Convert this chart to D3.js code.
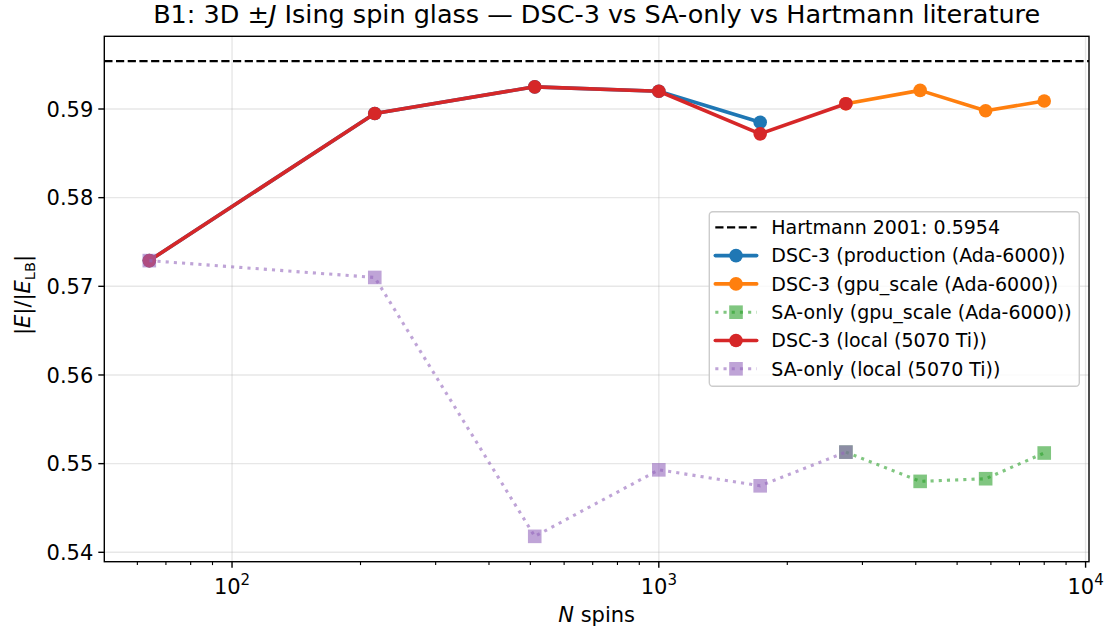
<!DOCTYPE html>
<html>
<head>
<meta charset="utf-8">
<script src="https://cdn.jsdelivr.net/npm/d3@7"></script>
<style>
  body { margin: 0; background: #fff; }
  svg { font-family: "DejaVu Sans", sans-serif; }
</style>
</head>
<body>
<div id="chart"></div>
<script>
// ---- data ----
const hartmann = 0.5954;

const nLocal      = [64, 216, 512, 1000, 1728, 2744];
const nProduction = [64, 216, 512, 1000, 1728];
const nGpu        = [2744, 4096, 5832, 8000];

const dscProduction = [0.5729, 0.5895, 0.5925, 0.5920, 0.5885];
const dscGpu        = [0.5906, 0.5921, 0.5898, 0.5909];
const saGpu         = [0.5513, 0.5480, 0.5483, 0.5512];
const dscLocal      = [0.5729, 0.5895, 0.5925, 0.5920, 0.5872, 0.5906];
const saLocal       = [0.5729, 0.5710, 0.5418, 0.5493, 0.5475, 0.5513];

const yTicks = [0.54, 0.55, 0.56, 0.57, 0.58, 0.59];
const xTicks = [100, 1000, 10000];

const series = [
  {label: 'DSC-3 (production (Ada-6000))', n: nProduction, v: dscProduction, color: '#1f77b4', kind: 'dsc'},
  {label: 'DSC-3 (gpu_scale (Ada-6000))',  n: nGpu,        v: dscGpu,        color: '#ff7f0e', kind: 'dsc'},
  {label: 'SA-only (gpu_scale (Ada-6000))',n: nGpu,        v: saGpu,         color: '#2ca02c', kind: 'sa'},
  {label: 'DSC-3 (local (5070 Ti))',       n: nLocal,      v: dscLocal,      color: '#d62728', kind: 'dsc'},
  {label: 'SA-only (local (5070 Ti))',     n: nLocal,      v: saLocal,       color: '#9467bd', kind: 'sa'}
];

// ---- layout ----
const W = 1107, H = 630;
const m = {left: 104.3, right: W - 1089, top: 36.3, bottom: H - 561.7};
const iw = W - m.left - m.right, ih = H - m.top - m.bottom;
const fTick = 21, fLegend = 19, fTitle = 25.5, fLabel = 21;

const svg = d3.select('#chart').append('svg')
  .attr('width', W).attr('height', H);

const x = d3.scaleLog().domain([50.2, 10186]).range([0, iw]);
const y = d3.scaleLinear().domain([0.53894, 0.5982]).range([ih, 0]);

const g = svg.append('g').attr('transform', `translate(${m.left},${m.top})`);

// grid
g.append('g').selectAll('line').data(xTicks.filter(t => x(t) <= iw)).enter().append('line')
  .attr('x1', d => x(d)).attr('x2', d => x(d)).attr('y1', 0).attr('y2', ih)
  .attr('stroke', '#b0b0b0').attr('stroke-opacity', 0.3).attr('stroke-width', 1.4);
g.append('g').selectAll('line').data(yTicks).enter().append('line')
  .attr('y1', d => y(d)).attr('y2', d => y(d)).attr('x1', 0).attr('x2', iw)
  .attr('stroke', '#b0b0b0').attr('stroke-opacity', 0.3).attr('stroke-width', 1.4);

// Hartmann reference
g.append('line')
  .attr('x1', 0).attr('x2', iw).attr('y1', y(hartmann)).attr('y2', y(hartmann))
  .attr('stroke', '#000').attr('stroke-width', 2.2).attr('stroke-dasharray', '8.2,3.5');

const line = d3.line().x(d => x(d[0])).y(d => y(d[1]));

function styleLine(sel, s) {
  if (s.kind === 'dsc') {
    sel.attr('stroke', s.color).attr('stroke-width', 3.6).attr('fill', 'none')
      .attr('stroke-linejoin', 'round').attr('stroke-linecap', 'round');
  } else {
    sel.attr('stroke', s.color).attr('stroke-width', 3.1).attr('fill', 'none')
      .attr('stroke-dasharray', '3.1,5.1').attr('stroke-opacity', 0.6);
  }
}
function drawMarker(sel, s, cx, cy) {
  if (s.kind === 'dsc') {
    sel.append('circle').attr('cx', cx).attr('cy', cy).attr('r', 6.8).attr('fill', s.color);
  } else {
    sel.append('rect').attr('x', cx - 6.8).attr('y', cy - 6.8).attr('width', 13.6).attr('height', 13.6)
      .attr('fill', s.color).attr('fill-opacity', 0.6);
  }
}

series.forEach(s => {
  const pts = s.n.map((n, i) => [n, s.v[i]]);
  const gs = g.append('g');
  gs.append('path').attr('d', line(pts)).call(styleLine, s);
  pts.forEach(p => drawMarker(gs, s, x(p[0]), y(p[1])));
});

// frame
g.append('rect').attr('width', iw).attr('height', ih)
  .attr('fill', 'none').attr('stroke', '#000').attr('stroke-width', 1.4);

// y axis ticks
const yAx = g.append('g');
yTicks.forEach(t => {
  yAx.append('line').attr('x1', -6).attr('x2', 0).attr('y1', y(t)).attr('y2', y(t))
    .attr('stroke', '#000').attr('stroke-width', 1.4);
  yAx.append('text').attr('x', -11).attr('y', y(t)).attr('dy', '0.36em')
    .attr('text-anchor', 'end').attr('font-size', fTick).text(t.toFixed(2));
});

// x axis ticks (major + minor)
const xAx = g.append('g').attr('transform', `translate(0,${ih})`);
const minor = [];
[10, 100, 1000].forEach(dec => { for (let k = 2; k <= 9; k++) minor.push(k * dec); });
minor.filter(t => x(t) >= 0 && x(t) <= iw).forEach(t => {
  xAx.append('line').attr('x1', x(t)).attr('x2', x(t)).attr('y1', 0).attr('y2', 3.4)
    .attr('stroke', '#000').attr('stroke-width', 1.1);
});
xTicks.forEach(t => {
  xAx.append('line').attr('x1', x(t)).attr('x2', x(t)).attr('y1', 0).attr('y2', 6)
    .attr('stroke', '#000').attr('stroke-width', 1.4);
  const tx = xAx.append('text').attr('x', x(t)).attr('y', 32)
    .attr('text-anchor', 'middle').attr('font-size', fTick);
  tx.append('tspan').text('10');
  tx.append('tspan').attr('dy', -9).attr('font-size', 15).text(Math.round(Math.log10(t)));
});

// axis labels
svg.append('text').attr('x', m.left + iw / 2).attr('y', 622)
  .attr('text-anchor', 'middle').attr('font-size', fLabel)
  .call(t => {
    t.append('tspan').attr('font-style', 'italic').text('N');
    t.append('tspan').text(' spins');
  });

svg.append('text').attr('transform', `translate(30,${m.top + ih / 2 - 4}) rotate(-90)`)
  .attr('text-anchor', 'middle').attr('font-size', fLabel)
  .call(t => {
    t.append('tspan').text('|');
    t.append('tspan').attr('font-style', 'italic').text('E');
    t.append('tspan').text('|/|');
    t.append('tspan').attr('font-style', 'italic').text('E');
    t.append('tspan').attr('font-size', 14.5).attr('dy', 4.5).text('LB');
    t.append('tspan').attr('dy', -4.5).text('|');
  });

// title
svg.append('text').attr('x', m.left + iw / 2).attr('y', 23)
  .attr('text-anchor', 'middle').attr('font-size', fTitle)
  .call(t => {
    t.append('tspan').text('B1: 3D \u00b1');
    t.append('tspan').attr('font-style', 'italic').text('J');
    t.append('tspan').text(' Ising spin glass \u2014 DSC-3 vs SA-only vs Hartmann literature');
  });

// legend
const lg = svg.append('g').attr('transform', 'translate(709.3,211.7)');
lg.append('rect').attr('width', 370).attr('height', 174.6).attr('rx', 3.5)
  .attr('fill', '#fff').attr('fill-opacity', 0.8).attr('stroke', '#cccccc').attr('stroke-width', 1.4);

const entries = [{label: 'Hartmann 2001: 0.5954', kind: 'ref'}].concat(series);
entries.forEach((s, i) => {
  const cy = 15.6 + i * 28.3;
  const row = lg.append('g');
  if (s.kind === 'ref') {
    row.append('line').attr('x1', 6).attr('x2', 47.4).attr('y1', cy).attr('y2', cy)
      .attr('stroke', '#000').attr('stroke-width', 2.2).attr('stroke-dasharray', '8.2,3.5');
  } else {
    row.append('path').attr('d', `M6,${cy}L47.4,${cy}`).call(styleLine, s);
    drawMarker(row, s, 26.7, cy);
  }
  row.append('text').attr('x', 62).attr('y', cy).attr('dy', '0.36em')
    .attr('font-size', fLegend).text(s.label);
});
</script>
</body>
</html>
